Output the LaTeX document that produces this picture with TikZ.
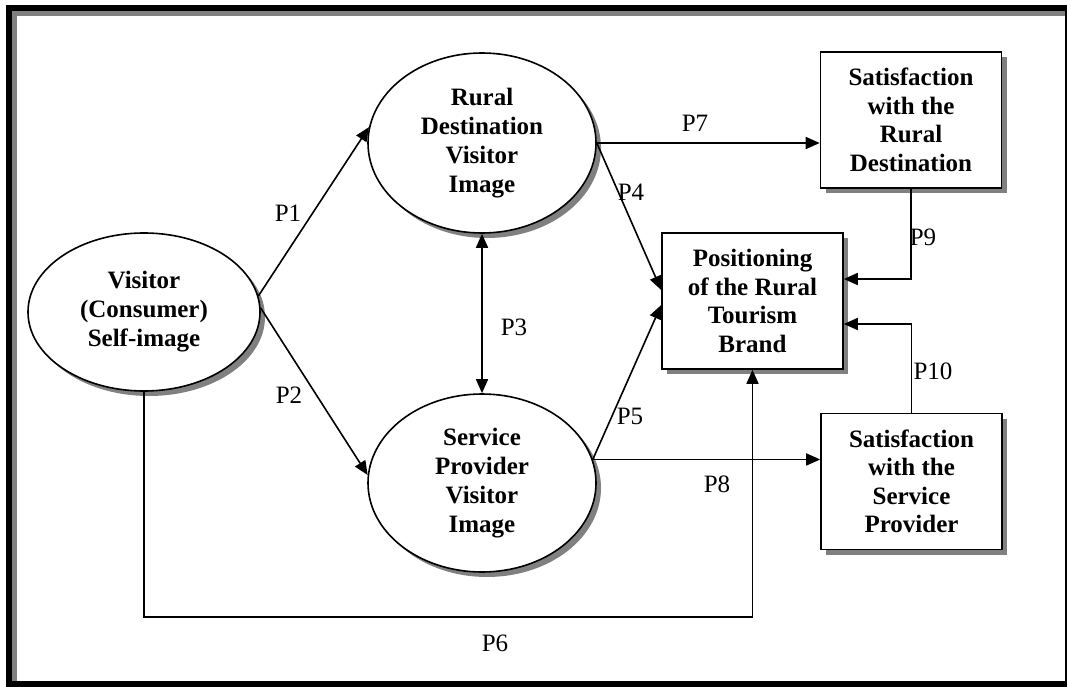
\documentclass[tikz,border=0pt]{standalone}
\usepackage{fontspec}
\setmainfont{Liberation Serif}
\usetikzlibrary{arrows.meta,positioning,shapes,shadows}

\begin{document}
\begin{tikzpicture}[
            x=1pt,y=-1pt,
            font=\fontsize{25}{29}\selectfont,
            shade/.style={drop shadow={shadow xshift=5pt,shadow yshift=-5pt,fill=gray,opacity=1}},
            concept/.style={draw,ellipse,line width=1.6pt,fill=white,inner sep=0pt,align=center,font=\fontsize{25}{29}\selectfont\bfseries,shade},
            outcome/.style={draw,rectangle,line width=1.6pt,fill=white,minimum width=181pt,minimum height=136pt,inner sep=0pt,align=center,font=\fontsize{25}{28.5}\selectfont\bfseries,shade},
            plab/.style={inner sep=0pt},
            link/.style={draw,line width=1.6pt,-{Triangle[length=14pt,width=12pt]}},
            both/.style={link,{Triangle[length=14pt,width=12pt]}-{Triangle[length=14pt,width=12pt]}}
          ]
          \useasboundingbox (0,0) rectangle (1067,687);

          %frame
          \fill[black] (6,5) rectangle (1067,687);
          \fill[white] (12,11) rectangle (1065,681);
          \fill[gray] (12,11) rectangle (17,681);
          \fill[gray] (12,11) rectangle (1065,16);

          %images
          \node[concept,minimum width=232pt,minimum height=158pt] (vsi) at (144,312) {Visitor\\(Consumer)\\Self-image};
          \node[concept,minimum width=228pt,minimum height=180pt] (rdv) at (482,143) {Rural\\Destination\\Visitor\\Image};
          \node[concept,minimum width=228pt,minimum height=178pt] (spv) at (482,483) {Service\\Provider\\Visitor\\Image};

          %boxes
          \node[outcome] (pos) at (752.5,301) {Positioning\\of the Rural\\Tourism\\Brand};
          \node[outcome] (sar) at (911,120) {Satisfaction\\with the\\Rural\\Destination};
          \node[outcome] (ssp) at (911.5,481.5) {Satisfaction\\with the\\Service\\Provider};

          %links
          \path
          (vsi.8) edge[link] (rdv.172)
          (vsi.2) edge[link] (spv.176)
          (rdv.south) edge[both] (spv.north)
          (rdv.east) edge[link] ([yshift=11pt]pos.west)
          (spv.12) edge[link] ([yshift=-4pt]pos.west)
          (rdv.east) edge[link] (rdv.east -| sar.west)
          (spv.12) edge[link] (spv.12 -| ssp.west)
          ;
          \draw[link] (sar.south) |- ([yshift=22pt]pos.east);
          \draw[link] (ssp.north) |- ([yshift=-23pt]pos.east);
          \coordinate (turn) at (752.5,617);
          \draw[link] (vsi.south) |- (turn) -- (pos.south);

          %labels
          \node[plab] (p1) at (288,213) {P1};
          \node[plab] (p2) at (289,395) {P2};
          \node[plab] (p3) at (514,327) {P3};
          \node[plab] (p4) at (631,192) {P4};
          \node[plab] (p5) at (630,416) {P5};
          \node[plab] (p6) at (495,643) {P6};
          \node[plab] (p7) at (695,123) {P7};
          \node[plab] (p8) at (717,484) {P8};
          \node[plab] (p9) at (923,237) {P9};
          \node[plab] (p10) at (933,371) {P10};

      \end{tikzpicture}
\end{document}
